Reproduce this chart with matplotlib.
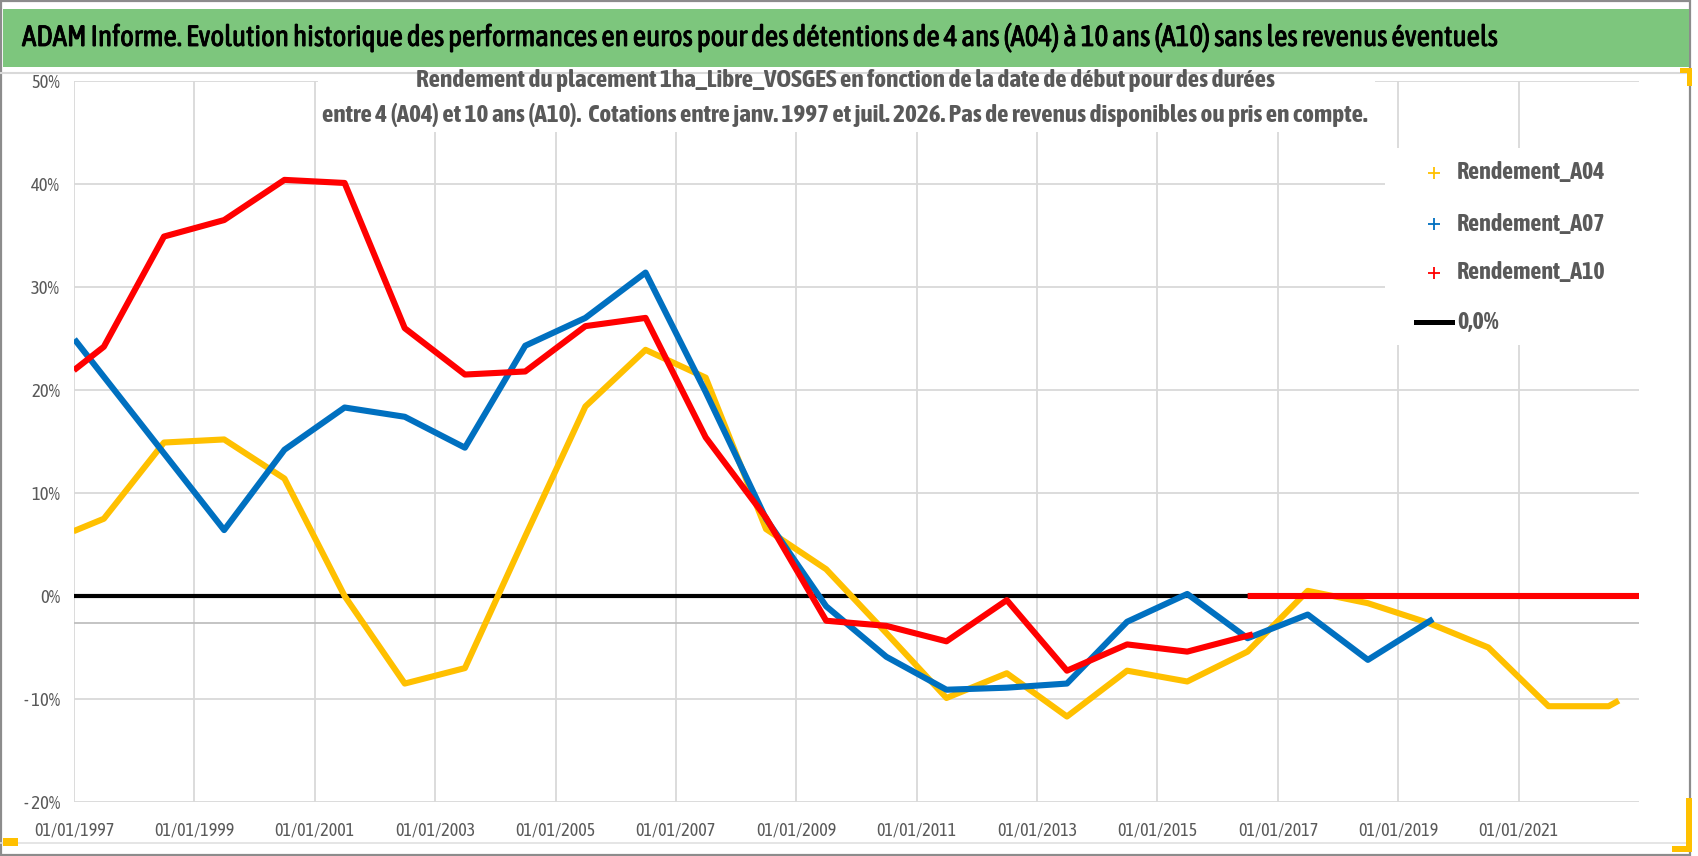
import matplotlib
matplotlib.use("Agg")
import matplotlib.pyplot as plt
import matplotlib.dates as mdates
import matplotlib.patheffects as pe
from matplotlib import font_manager
from matplotlib.lines import Line2D
from matplotlib.patches import Rectangle
import numpy as np
import pandas as pd


def weight_num(w):
    if isinstance(w, (int, float)):
        return w
    return font_manager.weight_dict.get(str(w), 400)


# pick a narrow family (with a bold face if possible), else Liberation Sans
entries = font_manager.fontManager.ttflist
narrow = sorted({f.name for f in entries if 'Narrow' in f.name or 'Condensed' in f.name})
narrow_bold = [n for n in narrow
               if any(f.name == n and weight_num(f.weight) >= 600 for f in entries)]
if narrow_bold:
    BASE, FAKE_BOLD = narrow_bold[0], False
elif narrow:
    BASE, FAKE_BOLD = narrow[0], True
else:
    BASE, FAKE_BOLD = 'Liberation Sans', False
plt.rcParams['font.family'] = [BASE, 'DejaVu Sans']

# --- data (values in %) ---
a04_dates = ['1997-01-15', '1997-07-01', '1998-07-01', '1999-07-01', '2000-07-01',
             '2001-07-01', '2002-07-01', '2003-07-01', '2004-07-01', '2005-07-01',
             '2006-07-01', '2007-07-01', '2008-07-01', '2009-07-01', '2010-07-01',
             '2011-07-01', '2012-07-01', '2013-07-01', '2014-07-01', '2015-07-01',
             '2016-07-01', '2017-07-01', '2018-07-01', '2019-07-01', '2020-07-01',
             '2021-07-01', '2022-07-01', '2022-08-15']
a04_vals = [6.4, 7.5, 14.9, 15.2, 11.4,
            0.0, -8.5, -7.0, 5.8, 18.4,
            23.9, 21.2, 6.5, 2.6, -3.6,
            -9.9, -7.5, -11.7, -7.25, -8.3,
            -5.4, 0.5, -0.7, -2.6, -5.0,
            -10.7, -10.7, -10.3]

a07_dates = ['1997-01-15', '1999-07-01', '2000-07-01', '2001-07-01', '2002-07-01',
             '2003-07-01', '2004-07-01', '2005-07-01', '2006-07-01', '2007-07-01',
             '2008-07-01', '2009-07-01', '2010-07-01', '2011-07-01', '2012-07-01',
             '2013-07-01', '2014-07-01', '2015-07-01', '2016-07-01', '2017-07-01',
             '2018-07-01', '2019-07-15']
a07_vals = [24.7, 6.4, 14.2, 18.3, 17.4,
            14.4, 24.3, 27.0, 31.4, 19.8,
            7.5, -1.0, -5.9, -9.1, -8.9,
            -8.5, -2.5, 0.2, -4.1, -1.8,
            -6.2, -2.4]

a10_dates = ['1997-01-15', '1997-07-01', '1998-07-01', '1999-07-01', '2000-07-01',
             '2001-07-01', '2002-07-01', '2003-07-01', '2004-07-01', '2005-07-01',
             '2006-07-01', '2007-07-01', '2008-07-01', '2009-07-01', '2010-07-01',
             '2011-07-01', '2012-07-01', '2013-07-01', '2014-07-01', '2015-07-01',
             '2016-07-15', '2016-07-18', '2016-07-20', '2023-01-01']
a10_vals = [22.1, 24.2, 34.9, 36.5, 40.4,
            40.1, 26.0, 21.5, 21.8, 26.2,
            27.0, 15.4, 7.6, -2.4, -2.9,
            -4.4, -0.4, -7.25, -4.7, -5.4,
            -3.8, np.nan, 0.0, 0.0]

series_names = ['Rendement_A04', 'Rendement_A07', 'Rendement_A10', '0,0%']
series_colors = ['#FFC000', '#0070C0', '#FF0000', 'black']

tick_years = list(range(1997, 2022, 2))
y_ticks = [-20, -10, 0, 10, 20, 30, 40, 50]

title = ("ADAM Informe. Evolution historique des performances en euros pour des "
         "détentions de 4 ans (A04) à 10 ans (A10) sans les revenus éventuels")
sub1 = "Rendement du placement 1ha_Libre_VOSGES en fonction de la date de début pour des durées"
sub2 = ("entre 4 (A04) et 10 ans (A10).  Cotations entre janv. 1997 et juil. 2026. "
        "Pas de revenus disponibles ou pris en compte.")

W, H = 1698, 856
GREY = '#595959'


def fx(x):
    return x / W


def fy(y):
    return 1 - y / H


fig = plt.figure(figsize=(W / 100, H / 100), dpi=100)
fig.patch.set_facecolor('white')
renderer = fig.canvas.get_renderer()


def fit_size(text, width_px, weight='normal', start=20):
    t = fig.text(0, 0, text, fontsize=start, fontweight=weight)
    w = t.get_window_extent(renderer=renderer).width
    t.remove()
    return start * width_px / w


def bold_kw(color, size):
    # real bold if the family has it, else a thin stroke around the glyphs
    if FAKE_BOLD:
        return dict(fontweight='normal',
                    path_effects=[pe.withStroke(linewidth=size * 0.07, foreground=color)])
    return dict(fontweight='bold')


BOLD = 'normal' if FAKE_BOLD else 'bold'

# frame, title bar and Excel selection marks
fig.add_artist(Rectangle((fx(1), fy(855)), fx(1689), 854 / H, transform=fig.transFigure,
                         facecolor='none', edgecolor='#8c8c8c', lw=1.6, zorder=0))
fig.add_artist(Rectangle((fx(3), fy(67)), fx(1686), 58 / H, transform=fig.transFigure,
                         facecolor='#7dc67d', edgecolor='none', zorder=1))
fig.add_artist(Line2D([fx(0), fx(1690)], [fy(73), fy(73)], transform=fig.transFigure,
                      color='#d9d9d9', lw=1.5))
fig.add_artist(Line2D([fx(0), fx(1690)], [fy(843), fy(843)], transform=fig.transFigure,
                      color='#e0e0e0', lw=1.2))
for (x0, y0, w, h) in [(1680, 68, 12, 5), (1687, 68, 5, 18), (3, 838, 15, 8),
                       (1686, 798, 6, 54), (1672, 846, 20, 6)]:
    fig.add_artist(Rectangle((fx(x0), fy(y0 + h)), w / W, h / H, transform=fig.transFigure,
                             facecolor='#FFC000', edgecolor='none', zorder=2))

t_size = fit_size(title, 1476)
fig.text(fx(22), fy(38), title, fontsize=t_size, color='black', ha='left', va='center',
         path_effects=[pe.withStroke(linewidth=t_size * 0.03, foreground='black')])

ax = fig.add_axes([fx(74), fy(802), (1639 - 74) / W, (802 - 81) / H])

ax.axhline(0, color=series_colors[3], lw=3, zorder=2)
ax.axhline(-2.6, color='#bfbfbf', lw=1.3, zorder=1)
for d, v, c, z in [(a04_dates, a04_vals, series_colors[0], 3),
                   (a07_dates, a07_vals, series_colors[1], 4),
                   (a10_dates, a10_vals, series_colors[2], 5)]:
    ax.plot(pd.to_datetime(d), v, color=c, lw=4.4, zorder=z)

ax.set_xlim(pd.Timestamp('1997-01-01'), pd.Timestamp('2023-01-01'))
ax.set_ylim(-20, 50)
ax.set_xticks(pd.to_datetime([f'{y}-01-01' for y in tick_years]))
ax.xaxis.set_major_formatter(mdates.DateFormatter('%d/%m/%Y'))
ax.set_yticks(y_ticks)
ax.set_yticklabels([f'{v}%' if v >= 0 else f'- {abs(v)}%' for v in y_ticks])
ax.grid(True, color='#d9d9d9', lw=1.3, zorder=0)
ax.set_axisbelow(True)
for s in ax.spines.values():
    s.set_visible(False)
ax.tick_params(axis='y', length=0, pad=10, labelsize=fit_size('50%', 29), labelcolor=GREY)
ax.tick_params(axis='x', length=0, pad=14, labelsize=fit_size('01/01/1997', 80),
               labelcolor=GREY)

# white box behind the subtitle
fig.add_artist(Rectangle((fx(318), fy(132)), (1375 - 318) / W, (132 - 76) / H,
                         transform=fig.transFigure, facecolor='white', edgecolor='none',
                         zorder=1))
s_size = fit_size(sub2, 1040, weight=BOLD)
for y, s in [(80, sub1), (115, sub2)]:
    fig.text(fx(845), fy(y), s, fontsize=s_size, color=GREY, ha='center', va='center',
             zorder=3, **bold_kw(GREY, s_size))

# legend, laid out like the Excel one
fig.add_artist(Rectangle((fx(1385), fy(345)), (1640 - 1385) / W, (345 - 148) / H,
                         transform=fig.transFigure, facecolor='white', edgecolor='none',
                         zorder=3))
l_size = fit_size('Rendement_A04', 148, weight=BOLD)
leg_y = [173, 224, 273, 322]
for i, (name, col) in enumerate(zip(series_names, series_colors)):
    if i < 3:
        fig.add_artist(Line2D([fx(1434)], [fy(leg_y[i])], transform=fig.transFigure,
                              color=col, marker='+', ms=8, mew=1.3, ls='none', zorder=4))
    else:
        fig.add_artist(Line2D([fx(1416), fx(1452)], [fy(leg_y[i]), fy(leg_y[i])],
                              transform=fig.transFigure, color=col, lw=3.6, zorder=4))
    fig.text(fx(1457), fy(leg_y[i]), name, fontsize=l_size, color=GREY, ha='left',
             va='center', zorder=4, **bold_kw(GREY, l_size))

fig.savefig('out.png', dpi=100, facecolor='white')
